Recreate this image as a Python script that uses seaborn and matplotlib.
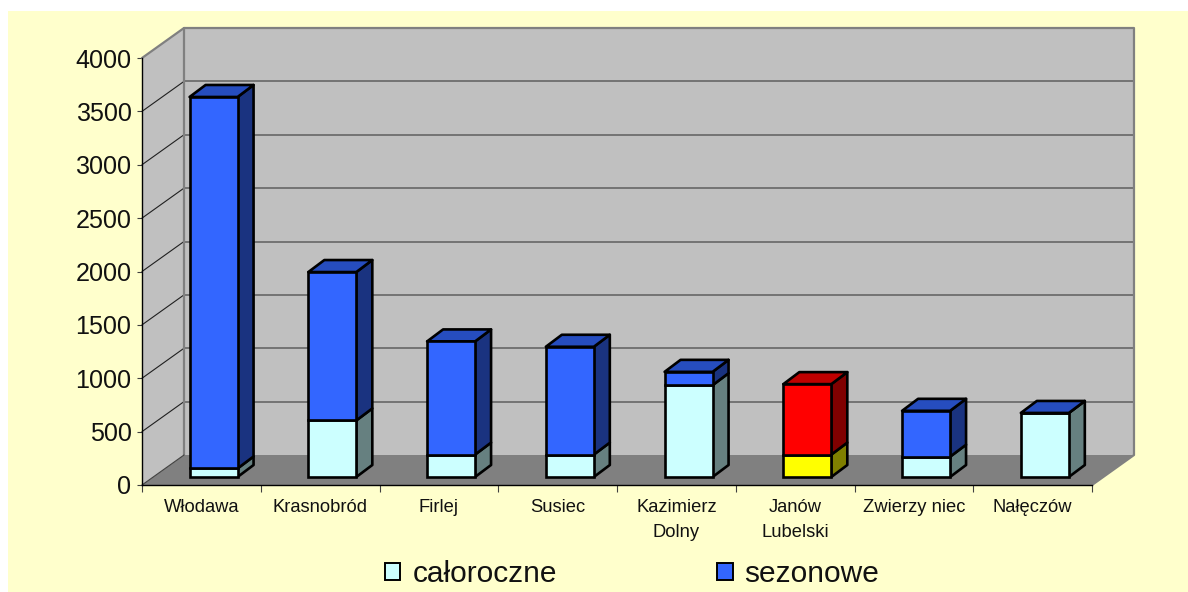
import matplotlib
matplotlib.use("Agg")
import matplotlib.pyplot as plt
from matplotlib.patches import Patch, Polygon
from matplotlib.transforms import Affine2D
import seaborn as sns
import pandas as pd

# Values
towns = ["Włodawa", "Krasnobród", "Firlej", "Susiec", "Kazimierz\nDolny", "Janów\nLubelski", "Zwierzy niec", "Nałęczów"]
caloroczne = [80, 530, 210, 210, 860, 210, 190, 600]
sezonowe = [3480, 1390, 1060, 1010, 125, 660, 430, 0]
yticks = [0, 500, 1000, 1500, 2000, 2500, 3000, 3500, 4000]

# front face colour -> (side colour, top colour)
shades = {
    "#CCFFFF": ("#668080", "#99BFBF"),
    "#3366FF": ("#1A3380", "#264DBF"),
    "#FFFF00": ("#808000", "#BFBF00"),
    "#FF0000": ("#800000", "#BF0000"),
}
low_colors = ["#CCFFFF"] * 5 + ["#FFFF00"] + ["#CCFFFF"] * 2
high_colors = ["#3366FF"] * 5 + ["#FF0000"] + ["#3366FF"] * 2

W, H = 1188, 592
# 3D look, in pixels
WALL_DX, WALL_DY = 42, 30
BAR_DX, BAR_DY = 16, 12
SHIFT_X, SHIFT_Y = 12.2, 8
EDGE = 1.9

sns.set_theme(style="white")
plt.rcParams["font.family"] = ["Liberation Sans", "DejaVu Sans"]

df = pd.DataFrame({"town": towns, "caloroczne": caloroczne, "sezonowe": sezonowe})

fig = plt.figure(figsize=(W / 100, H / 100), dpi=100, facecolor="white")
bg = fig.add_axes([8 / W, 0, 1 - 8 / W, 1 - 11 / H], zorder=-1)
bg.set_facecolor("#FFFFCC")
bg.set_xticks([])
bg.set_yticks([])
sns.despine(ax=bg, left=True, bottom=True)

ax = fig.add_axes([142 / W, (H - 485) / H, 950 / W, 427 / H])
ax.patch.set_alpha(0)

sns.barplot(data=df, x="town", y="caloroczne", color="#CCFFFF", width=0.404, edgecolor="black",
            linewidth=EDGE, saturation=1, ax=ax, zorder=5)
sns.barplot(data=df, x="town", y="sezonowe", color="#3366FF", width=0.404, bottom=df["caloroczne"].values,
            edgecolor="black", linewidth=EDGE, saturation=1, ax=ax, zorder=5)
bar_patches = list(ax.patches)
n_low = len(towns)

ax.set_xlim(-0.5, len(towns) - 0.5)
ax.set_ylim(0, 4000)

y0, y1 = ax.get_ylim()
x0, x1 = ax.get_xlim()
data = ax.transData
bars = data + Affine2D().translate(SHIFT_X, SHIFT_Y)


def px_x(p):
    return p * (x1 - x0) / 950


def px_y(p):
    return p * (y1 - y0) / 427


# floor, side wall and back wall
dx, dy = px_x(WALL_DX), px_y(WALL_DY)
ax.add_patch(Polygon([(x0, y0), (x0 + dx, y0 + dy), (x1 + dx, y0 + dy), (x1, y0)], fc="#808080", ec="none", clip_on=False, zorder=1))
ax.add_patch(Polygon([(x0, y0), (x0 + dx, y0 + dy), (x0 + dx, y1 + dy), (x0, y1)], fc="#C0C0C0", ec="none", clip_on=False, zorder=1))
ax.add_patch(Polygon([(x0 + dx, y0 + dy), (x1 + dx, y0 + dy), (x1 + dx, y1 + dy), (x0 + dx, y1 + dy)], fc="#C0C0C0", ec="none", clip_on=False, zorder=1))
for t in yticks[1:-1]:
    ax.plot([x0 + dx, x1 + dx], [t + dy, t + dy], color="#666666", lw=1.2, clip_on=False, zorder=2)
    ax.plot([x0, x0 + dx], [t, t + dy], color="#202020", lw=0.8, clip_on=False, zorder=2)
ax.plot([x0, x0 + dx, x1 + dx, x1 + dx, x1], [y1, y1 + dy, y1 + dy, y0 + dy, y0], color="#808080", lw=1.6, clip_on=False, zorder=2)
ax.plot([x0 + dx, x0 + dx], [y0 + dy, y1 + dy], color="#808080", lw=1.6, clip_on=False, zorder=2)
ax.plot([x0, x0 + dx], [y0, y0 + dy], color="#404040", lw=0.8, clip_on=False, zorder=2)

# sides and tops of the bars, worked out from the seaborn bars
bdx, bdy = px_x(BAR_DX), px_y(BAR_DY)
for i, patch in enumerate(bar_patches):
    px, py = patch.get_x(), patch.get_y()
    pw, ph = patch.get_width(), patch.get_height()
    is_low = i < n_low
    col = low_colors[i] if is_low else high_colors[i - n_low]
    side, top = shades[col]
    patch.set_facecolor(col)
    patch.set_transform(bars)
    patch.set_clip_on(False)
    ax.add_patch(Polygon([(px + pw, py), (px + pw + bdx, py + bdy), (px + pw + bdx, py + ph + bdy), (px + pw, py + ph)],
                         fc=side, ec="black", lw=EDGE, transform=bars, clip_on=False, zorder=4, joinstyle="round"))
    if not is_low:
        ax.add_patch(Polygon([(px, py + ph), (px + bdx, py + ph + bdy), (px + pw + bdx, py + ph + bdy), (px + pw, py + ph)],
                             fc=top, ec="black", lw=EDGE, transform=bars, clip_on=False, zorder=4, joinstyle="round"))

# axes
sns.despine(ax=ax)
for s in ["left", "bottom"]:
    ax.spines[s].set_color("black")
    ax.spines[s].set_linewidth(1.0)
    ax.spines[s].set_zorder(3)
ax.set_xlabel("")
ax.set_ylabel("")
ax.set_yticks(yticks)
ax.tick_params(axis="y", left=True, length=3.6, width=0.8, color="#404040", pad=4, labelsize=18.1, labelcolor="#111111")
ax.set_xticks(range(len(towns)))
ax.set_xticklabels(towns, linespacing=1.65)
ax.set_xticks([i - 0.5 for i in range(len(towns) + 1)], minor=True)
ax.tick_params(axis="x", which="major", bottom=False, length=0, pad=10, labelsize=13.2, labelcolor="#111111")
ax.tick_params(axis="x", which="minor", bottom=True, length=5, width=0.8, color="#404040")

handles = [Patch(fc="#CCFFFF", ec="black", lw=1.4, label="całoroczne"),
           Patch(fc="#3366FF", ec="black", lw=1.4, label="sezonowe")]
fig.legend(handles=handles, ncol=2, loc="center", bbox_to_anchor=(632 / W, (H - 574) / H), frameon=False,
           fontsize=21.5, handlelength=0.53, handleheight=0.53, handletextpad=0.4, columnspacing=5.35,
           labelcolor="#111111", borderpad=0)

fig.savefig("out.png", dpi=100)
